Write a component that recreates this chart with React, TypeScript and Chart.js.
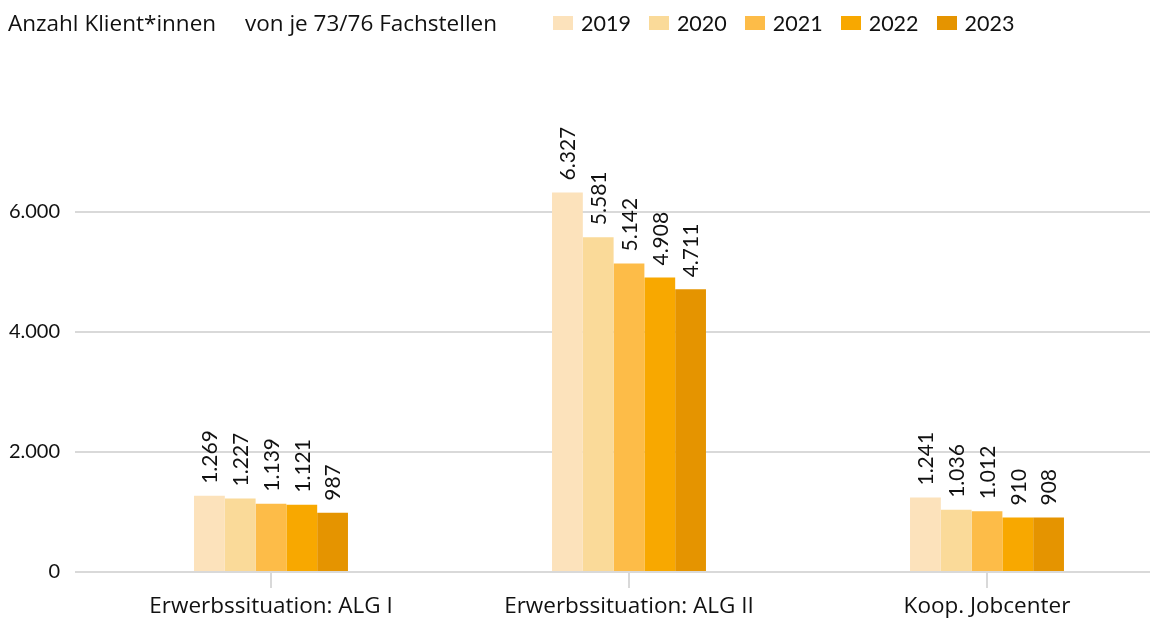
import React, { useEffect, useRef } from "react";
import { Chart, registerables } from "chart.js";

Chart.register(...registerables);

const categories = ["Erwerbssituation: ALG I", "Erwerbssituation: ALG II", "Koop. Jobcenter"];
const years = ["2019", "2020", "2021", "2022", "2023"];
const values2019 = [1269, 6327, 1241];
const values2020 = [1227, 5581, 1036];
const values2021 = [1139, 5142, 1012];
const values2022 = [1121, 4908, 910];
const values2023 = [987, 4711, 908];
const seriesValues = [values2019, values2020, values2021, values2022, values2023];
const colors = ["#FCE2BB", "#FADA99", "#FDBC48", "#F8A800", "#E59400"];
const yTicks = [0, 2000, 4000, 6000];
const yMax = 8000;

const NUMFONT = "Lato, 'Open Sans', sans-serif";
const TEXTFONT = "'Open Sans', Lato, sans-serif";
const fmt = (v: number) => v.toLocaleString("de-DE");

const labelPlugin = {
  id: "barLabels",
  afterDatasetsDraw(chart: any) {
    const ctx = chart.ctx;
    ctx.save();
    ctx.font = `21px ${NUMFONT}`;
    ctx.fillStyle = "#111111";
    chart.data.datasets.forEach((ds: any, i: number) => {
      const meta = chart.getDatasetMeta(i);
      meta.data.forEach((bar: any, j: number) => {
        const v = ds.data[j];
        ctx.save();
        ctx.translate(bar.x + 1, bar.y - 12);
        ctx.rotate(-Math.PI / 2);
        ctx.textAlign = "left";
        ctx.textBaseline = "middle";
        ctx.fillText(fmt(v), 0, 0);
        ctx.restore();
      });
    });
    ctx.restore();
  },
};

export default function App() {
  const ref = useRef<HTMLCanvasElement>(null);
  useEffect(() => {
    if (!ref.current) return;
    const chart = new Chart(ref.current, {
      type: "bar",
      data: {
        labels: categories,
        datasets: years.map((y, i) => ({
          label: y,
          data: seriesValues[i],
          backgroundColor: colors[i],
          borderWidth: 0,
          categoryPercentage: 0.43,
          barPercentage: 1,
        })),
      },
      options: {
        responsive: false,
        animation: false,
        layout: { padding: { top: 84, right: 2, left: 0, bottom: 0 } },
        plugins: {
          legend: { display: false },
          tooltip: { enabled: false },
          title: { display: false },
        },
        scales: {
          x: {
            grid: {
              offset: false,
              drawOnChartArea: false,
              drawTicks: true,
              tickLength: 16,
              color: "#d9d9d9",
              lineWidth: 2,
            },
            border: { display: false },
            ticks: {
              color: "#111111",
              font: { size: 22.5, family: TEXTFONT },
              padding: 5,
              maxRotation: 0,
            },
            afterFit(scale: any) {
              scale.height = 48;
            },
          },
          y: {
            min: 0,
            max: yMax,
            afterBuildTicks(scale: any) {
              scale.ticks = [...yTicks, yMax].map((v) => ({ value: v }));
            },
            grid: {
              color: (c: any) => (c.tick && c.tick.value === yMax ? "rgba(0,0,0,0)" : "#d9d9d9"),
              lineWidth: 2,
              tickLength: 17,
              drawTicks: true,
            },
            border: { display: false },
            ticks: {
              color: "#111111",
              font: { size: 20, family: NUMFONT },
              padding: 15,
              callback: (v: any) => (v === yMax ? "" : fmt(Number(v))),
            },
            afterFit(scale: any) {
              scale.width = 84;
            },
          },
        },
      },
      plugins: [labelPlugin],
    });
    return () => chart.destroy();
  }, []);

  const legendItems = years.map((y, i) => (
    <div key={y} style={{ display: "flex", alignItems: "center", marginRight: 18 }}>
      <div style={{ width: 20, height: 14, background: colors[i], marginRight: 8 }} />
      <span style={{ fontFamily: NUMFONT, fontSize: 21.5 }}>{y}</span>
    </div>
  ));

  return (
    <div
      style={{
        position: "relative",
        width: 1150,
        height: 612,
        overflow: "hidden",
        fontFamily: TEXTFONT,
        fontSize: 22.5,
        color: "#111111",
      }}
    >
      <canvas ref={ref} width={1160} height={612} style={{ position: "absolute", left: 0, top: 0, width: 1160, height: 612 }} />
      <div style={{ position: "absolute", left: 0, top: 2, lineHeight: "26px", whiteSpace: "nowrap" }}>
        Anzahl Klient*innen
      </div>
      <div style={{ position: "absolute", left: 237, top: 2, lineHeight: "26px", whiteSpace: "nowrap" }}>
        von je 73/76 Fachstellen
      </div>
      <div style={{ position: "absolute", left: 545, top: 2, lineHeight: "26px", display: "flex", whiteSpace: "nowrap" }}>
        {legendItems}
      </div>
    </div>
  );
}
